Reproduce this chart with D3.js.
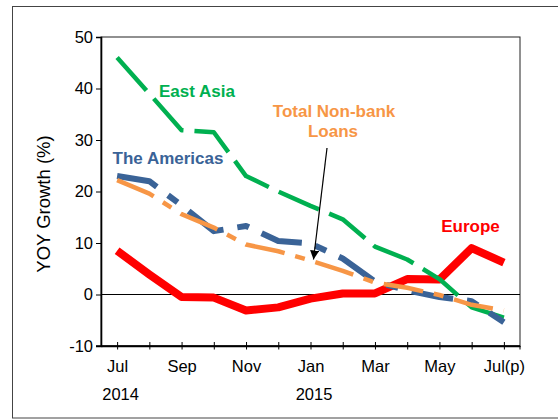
<!DOCTYPE html>
<html>
<head>
<meta charset="utf-8">
<script src="https://cdn.jsdelivr.net/npm/d3@7"></script>
<style>
  body { margin: 0; background: #fff; }
  svg text { font-family: "Liberation Sans", Arial, sans-serif; }
</style>
</head>
<body>
<div id="chart"></div>
<script>
var months = ['2014-07', '2014-08', '2014-09', '2014-10', '2014-11', '2014-12', '2015-01',
  '2015-02', '2015-03', '2015-04', '2015-05', '2015-06', '2015-07'];
var monthLabels = ['Jul', '', 'Sep', '', 'Nov', '', 'Jan', '', 'Mar', '', 'May', '', 'Jul(p)'];
var yearLabels = [['2014-07', '2014'], ['2015-01', '2015']];
var yTicks = [-10, 0, 10, 20, 30, 40, 50];

var eastAsia = [46.0, 39.0, 31.9, 31.5, 23.0, 20.0, 17.2, 14.6, 9.3, 6.8, 3.0, -2.5, -4.5];
var americas = [23.0, 22.0, 17.3, 12.3, 13.3, 10.4, 9.9, 7.0, 2.5, 0.8, -0.5, -1.3, -5.4];
var totalNonBank = [22.2, 19.6, 15.6, 13.0, 9.7, 8.4, 6.6, 4.6, 2.3, 1.3, -0.1, -2.0, -3.1];
var europe = [8.5, 3.9, -0.5, -0.6, -3.1, -2.5, -0.8, 0.2, 0.2, 3.0, 2.9, 9.0, 6.2];

var width = 558, height = 419;
var plotLeft = 101, plotRight = 520, plotTop = 37, plotBottom = 346;

var svg = d3.select('#chart').append('svg')
  .attr('width', width)
  .attr('height', height);

// outer frame, the right side runs off the picture
svg.append('rect')
  .attr('x', 12.5).attr('y', 6.5)
  .attr('width', 600).attr('height', 411.5)
  .attr('fill', 'none')
  .attr('stroke', '#444')
  .attr('stroke-width', 1);

var x = d3.scalePoint().domain(months).range([plotLeft, plotRight]).padding(0.5);
var y = d3.scaleLinear().domain([-10, 50]).range([plotBottom, plotTop]);

// plot area border
svg.append('rect')
  .attr('x', plotLeft).attr('y', plotTop)
  .attr('width', plotRight - plotLeft).attr('height', plotBottom - plotTop)
  .attr('fill', 'none')
  .attr('stroke', '#222')
  .attr('stroke-width', 1);

// zero line
svg.append('line')
  .attr('x1', plotLeft).attr('x2', plotRight)
  .attr('y1', y(0)).attr('y2', y(0))
  .attr('stroke', '#000')
  .attr('stroke-width', 1);

var yAxis = svg.append('g')
  .attr('transform', 'translate(' + plotLeft + ',0)')
  .call(d3.axisLeft(y).tickValues(yTicks).tickSize(5).tickPadding(3)
    .tickFormat(function(d) { return String(d); }));
yAxis.select('.domain').attr('stroke-width', 1.6);
yAxis.selectAll('text').attr('font-size', 16.5).attr('fill', '#000')
  .attr('font-family', '"Liberation Sans", Arial, sans-serif');

var xAxis = svg.append('g')
  .attr('transform', 'translate(0,' + plotBottom + ')')
  .call(d3.axisBottom(x).tickSize(3.5).tickSizeOuter(0).tickFormat(function(d, i) {
    return monthLabels[i];
  }));
xAxis.select('.domain').attr('stroke-width', 1.6);
xAxis.selectAll('.tick line').attr('y1', -4);
xAxis.selectAll('text').attr('font-size', 16.5).attr('fill', '#000').attr('dy', 0).attr('y', 26)
  .attr('font-family', '"Liberation Sans", Arial, sans-serif');
// the x axis line also reaches the -10 tick and the right border
svg.append('line')
  .attr('x1', plotLeft - 5).attr('x2', plotRight)
  .attr('y1', plotBottom).attr('y2', plotBottom)
  .attr('stroke', '#000').attr('stroke-width', 1.6);
svg.append('line')
  .attr('x1', plotRight).attr('x2', plotRight)
  .attr('y1', plotBottom).attr('y2', plotBottom + 3.5)
  .attr('stroke', '#000');

svg.selectAll('.year')
  .data(yearLabels)
  .enter().append('text')
  .attr('class', 'year')
  .attr('x', function(d) { return x(d[0]) + 3.5; })
  .attr('y', 400)
  .attr('text-anchor', 'middle')
  .attr('font-size', 16.5)
  .text(function(d) { return d[1]; });

svg.append('text')
  .attr('transform', 'translate(50,' + 204 + ') rotate(-90)')
  .attr('text-anchor', 'middle')
  .attr('font-size', 18.5)
  .text('YOY Growth (%)');

var line = d3.line()
  .x(function(d, i) { return x(months[i]); })
  .y(function(d) { return y(d); });

var series = [
  { values: europe, color: '#FF0000', width: 8, dash: null },
  { values: eastAsia, color: '#00B050', width: 4.5, dash: '44,11' },
  { values: americas, color: '#3A6397', width: 6, dash: '42,14,12,14' },
  { values: totalNonBank, color: '#F79646', width: 4.5, dash: '40,11,10,11' }
];

svg.selectAll('.series')
  .data(series)
  .enter().append('path')
  .attr('class', 'series')
  .attr('d', function(d) { return line(d.values); })
  .attr('fill', 'none')
  .attr('stroke', function(d) { return d.color; })
  .attr('stroke-width', function(d) { return d.width; })
  .attr('stroke-dasharray', function(d) { return d.dash; })
  .attr('stroke-linejoin', 'round');

// series labels
var labels = [
  { text: 'East Asia', x: 197, y: 97, color: '#00B050' },
  { text: 'The Americas', x: 168, y: 164, color: '#3A6397' },
  { text: 'Total Non-bank', x: 334, y: 117, color: '#F79646' },
  { text: 'Loans', x: 333, y: 137, color: '#F79646' },
  { text: 'Europe', x: 470.5, y: 232, color: '#FF0000' }
];
svg.selectAll('.label')
  .data(labels)
  .enter().append('text')
  .attr('class', 'label')
  .attr('x', function(d) { return d.x; })
  .attr('y', function(d) { return d.y; })
  .attr('text-anchor', 'middle')
  .attr('font-size', 17)
  .attr('font-weight', 'bold')
  .attr('fill', function(d) { return d.color; })
  .text(function(d) { return d.text; });

// arrow pointing at the total line
svg.append('defs').append('marker')
  .attr('id', 'head')
  .attr('viewBox', '0 0 10 10')
  .attr('refX', 10).attr('refY', 5)
  .attr('markerWidth', 9).attr('markerHeight', 9)
  .attr('markerUnits', 'userSpaceOnUse')
  .attr('orient', 'auto')
  .append('path')
  .attr('d', 'M0,0L10,5L0,10Z')
  .attr('fill', '#000');
svg.append('line')
  .attr('x1', 327).attr('y1', 148)
  .attr('x2', x('2015-01') + 3).attr('y2', y(totalNonBank[6]) - 1)
  .attr('stroke', '#000')
  .attr('stroke-width', 1.2)
  .attr('marker-end', 'url(#head)');
</script>
</body>
</html>
